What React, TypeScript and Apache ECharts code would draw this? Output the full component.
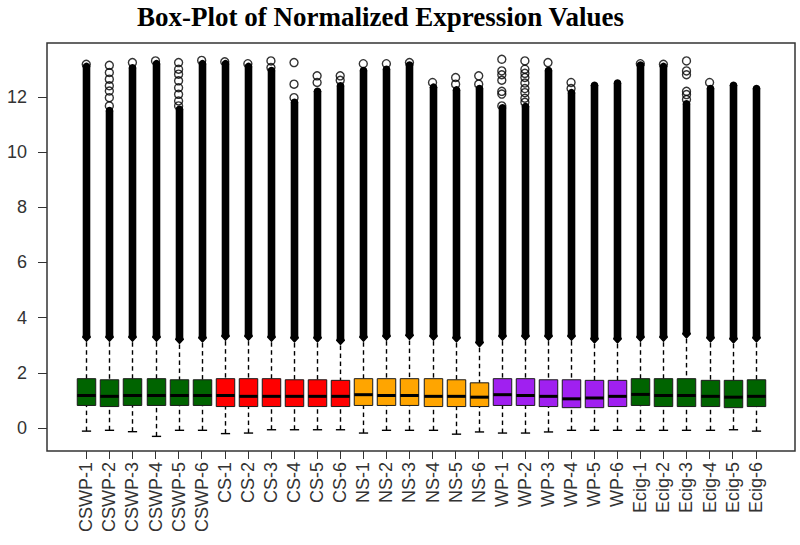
import React, { useEffect, useRef } from "react";
import * as echarts from "echarts";

const sampleNames = [
  "CSWP-1", "CSWP-2", "CSWP-3", "CSWP-4", "CSWP-5", "CSWP-6",
  "CS-1", "CS-2", "CS-3", "CS-4", "CS-5", "CS-6",
  "NS-1", "NS-2", "NS-3", "NS-4", "NS-5", "NS-6",
  "WP-1", "WP-2", "WP-3", "WP-4", "WP-5", "WP-6",
  "Ecig-1", "Ecig-2", "Ecig-3", "Ecig-4", "Ecig-5", "Ecig-6",
];
const groupOfSample = [
  0, 0, 0, 0, 0, 0, 1, 1, 1, 1, 1, 1, 2, 2, 2, 2, 2, 2,
  3, 3, 3, 3, 3, 3, 4, 4, 4, 4, 4, 4,
];
const groupColors = ["#006400", "#FF0000", "#FFA500", "#A020F0", "#006400"];

// lower whisker end
const whiskerLow = [
  -0.11, -0.08, -0.13, -0.3, -0.08, -0.08,
  -0.2, -0.18, -0.06, -0.06, -0.06, -0.06,
  -0.18, -0.08, -0.08, -0.08, -0.22, -0.14,
  -0.18, -0.18, -0.14, -0.08, -0.08, -0.08,
  -0.08, -0.08, -0.08, -0.08, -0.06, -0.11,
];
const q1 = [
  0.82, 0.78, 0.82, 0.82, 0.82, 0.82,
  0.78, 0.78, 0.78, 0.78, 0.78, 0.78,
  0.82, 0.82, 0.82, 0.78, 0.78, 0.78,
  0.82, 0.82, 0.78, 0.74, 0.74, 0.78,
  0.82, 0.78, 0.78, 0.78, 0.74, 0.78,
];
const median = [
  1.18, 1.15, 1.18, 1.18, 1.18, 1.18,
  1.18, 1.15, 1.15, 1.15, 1.15, 1.15,
  1.21, 1.18, 1.18, 1.15, 1.15, 1.12,
  1.21, 1.18, 1.15, 1.06, 1.09, 1.15,
  1.22, 1.18, 1.18, 1.15, 1.12, 1.15,
];
const q3 = [
  1.79, 1.75, 1.79, 1.79, 1.75, 1.75,
  1.79, 1.79, 1.79, 1.75, 1.75, 1.73,
  1.79, 1.79, 1.79, 1.79, 1.75, 1.64,
  1.79, 1.79, 1.75, 1.75, 1.73, 1.73,
  1.79, 1.79, 1.79, 1.73, 1.73, 1.75,
];
// upper whisker end = start of the dense outlier column
const outlierStart = [
  3.11, 3.11, 3.11, 3.11, 3.03, 3.08,
  3.15, 3.15, 3.11, 3.08, 3.08, 2.99,
  3.11, 3.15, 3.17, 3.15, 3.08, 2.91,
  3.15, 3.15, 3.15, 3.15, 3.05, 3.05,
  3.11, 3.11, 3.23, 3.08, 3.05, 3.08,
];
// top of the solid (overlapping) outlier column
const outlierDenseTop = [
  13.1, 11.5, 13.05, 13.2, 11.55, 13.2,
  13.2, 13.1, 12.95, 11.8, 12.2, 12.4,
  12.95, 13.0, 13.15, 12.35, 12.25, 12.3,
  11.6, 11.65, 12.95, 12.15, 12.42, 12.5,
  13.15, 13.1, 11.75, 12.3, 12.42, 12.3,
];
// separately visible outliers above the solid column
const sparseOutliers = [
  [13.18],
  [13.14, 12.88, 12.64, 12.4, 12.21, 11.97, 11.67],
  [13.24],
  [13.3],
  [13.24, 13.0, 12.82, 12.58, 12.33, 12.09, 11.85, 11.67],
  [13.32],
  [13.27],
  [13.2],
  [13.3, 13.06],
  [13.24, 12.46, 11.97],
  [12.76, 12.52],
  [12.76, 12.6],
  [13.2],
  [13.2],
  [13.24],
  [12.52],
  [12.7, 12.46],
  [12.76, 12.46],
  [13.36, 12.94, 12.8, 12.6, 12.2, 12.1, 11.67],
  [13.3, 13.0, 12.85, 12.7, 12.5, 12.3, 12.15, 11.95, 11.8],
  [13.24],
  [12.52, 12.3],
  [],
  [],
  [13.2],
  [13.18],
  [13.3, 12.94, 12.8, 12.2, 12.08, 11.9],
  [12.52],
  [],
  [],
];
const yTickValues = [0, 2, 4, 6, 8, 10, 12];

// dashed vertical segment drawn as separate short lines (from 'from' toward 'to')
function dashedVertical(x: number, from: number, to: number, dash: number, gap: number) {
  const out: any[] = [];
  const dir = to > from ? 1 : -1;
  const len = Math.abs(to - from);
  for (let s = 0; s < len; s += dash + gap) {
    const e = Math.min(s + dash, len);
    out.push({
      type: "line",
      shape: { x1: x, y1: from + dir * s, x2: x, y2: from + dir * e },
      style: { stroke: "#000", lineWidth: 1.4 },
    });
  }
  return out;
}

export default function App() {
  const ref = useRef<HTMLDivElement>(null);

  useEffect(() => {
    if (!ref.current) return;
    const chart = echarts.init(ref.current, undefined, { renderer: "svg" });

    const xPositions = sampleNames.map((_, i) => i + 1);
    const boxData = sampleNames.map((_, i) => [
      i + 1,
      whiskerLow[i],
      q1[i],
      median[i],
      q3[i],
      outlierStart[i],
      outlierDenseTop[i],
    ]);
    const scatterData: number[][] = [];
    sparseOutliers.forEach((arr, i) => {
      arr.forEach((v) => scatterData.push([i + 1, v]));
    });

    const renderItem = (params: any, api: any) => {
      const xv = api.value(0);
      const unit = api.size([1, 0])[0];
      const bw = unit * 0.8;
      const sw = unit * 0.4;
      const px = Math.round(api.coord([xv, 0])[0]) + 0.5;
      const y = (k: number) => api.coord([xv, api.value(k)])[1];
      const yLow = y(1);
      const yQ1 = y(2);
      const yMed = y(3);
      const yQ3 = y(4);
      const yOut = y(5);
      const yTop = y(6);
      const color = groupColors[groupOfSample[params.dataIndex]];
      const hw = 3.8;
      return {
        type: "group",
        children: [
          ...dashedVertical(px, yOut, yQ3, 4.5, 3.5),
          ...dashedVertical(px, yLow, yQ1, 4.5, 3.5),
          {
            type: "line",
            shape: { x1: px - sw / 2, y1: yLow, x2: px + sw / 2, y2: yLow },
            style: { stroke: "#000", lineWidth: 1.4 },
          },
          {
            type: "rect",
            shape: { x: px - bw / 2, y: yQ3, width: bw, height: yQ1 - yQ3 },
            style: { fill: color, stroke: "#1a1a1a", lineWidth: 1 },
          },
          {
            type: "line",
            shape: { x1: px - bw / 2, y1: yMed, x2: px + bw / 2, y2: yMed },
            style: { stroke: "#000", lineWidth: 3 },
          },
          {
            type: "polygon",
            shape: {
              points: [
                [px - hw, yTop],
                [px + hw, yTop],
                [px + hw, yOut - 7],
                [px + hw + 0.8, yOut - 5],
                [px, yOut],
                [px - hw - 0.8, yOut - 5],
                [px - hw, yOut - 7],
              ],
            },
            style: { fill: "#000" },
          },
          {
            type: "circle",
            shape: { cx: px, cy: yTop, r: hw },
            style: { fill: "#000" },
          },
        ],
      };
    };

    chart.setOption({
      animation: false,
      backgroundColor: "#fff",
      title: {
        text: "Box-Plot of Normalized Expression Values",
        left: 137,
        top: 3,
        padding: 0,
        textStyle: {
          fontFamily: "Liberation Serif",
          fontWeight: "bold",
          fontSize: 27,
          color: "#000",
        },
      },
      grid: {
        left: 47,
        right: 5,
        top: 43,
        bottom: 94,
        show: true,
        borderColor: "#333",
        borderWidth: 1.5,
        backgroundColor: "transparent",
      },
      xAxis: {
        type: "value",
        position: "bottom",
        min: -0.7,
        max: 31.7,
        axisLine: { show: false, onZero: false },
        splitLine: { show: false },
        axisTick: {
          show: true,
          customValues: xPositions,
          length: 8,
          lineStyle: { color: "#333", width: 1 },
        },
        axisLabel: {
          customValues: xPositions,
          formatter: (v: number) => sampleNames[Math.round(v) - 1] ?? "",
          rotate: 90,
          margin: 11,
          fontSize: 18,
          fontFamily: "Liberation Sans",
          color: "#333",
        },
      },
      yAxis: {
        type: "value",
        position: "left",
        min: -0.83,
        max: 13.95,
        axisLine: { show: false, onZero: false },
        splitLine: { show: false },
        axisTick: {
          show: true,
          customValues: yTickValues,
          length: 9,
          lineStyle: { color: "#333", width: 1 },
        },
        axisLabel: {
          customValues: yTickValues,
          margin: 20,
          fontSize: 18,
          fontFamily: "Liberation Sans",
          color: "#333",
        },
      },
      series: [
        {
          type: "custom",
          renderItem,
          data: boxData,
          encode: { x: 0, y: [1, 2, 3, 4, 5, 6] },
          clip: false,
          z: 2,
        },
        {
          type: "scatter",
          data: scatterData,
          symbol: "circle",
          symbolSize: 8,
          itemStyle: {
            color: "rgba(255,255,255,0)",
            borderColor: "#000",
            borderWidth: 1.4,
          },
          z: 3,
        },
      ],
    });

    return () => chart.dispose();
  }, []);

  return (
    <div
      ref={ref}
      style={{ position: "fixed", left: 0, top: 0, width: 800, height: 545 }}
    />
  );
}
